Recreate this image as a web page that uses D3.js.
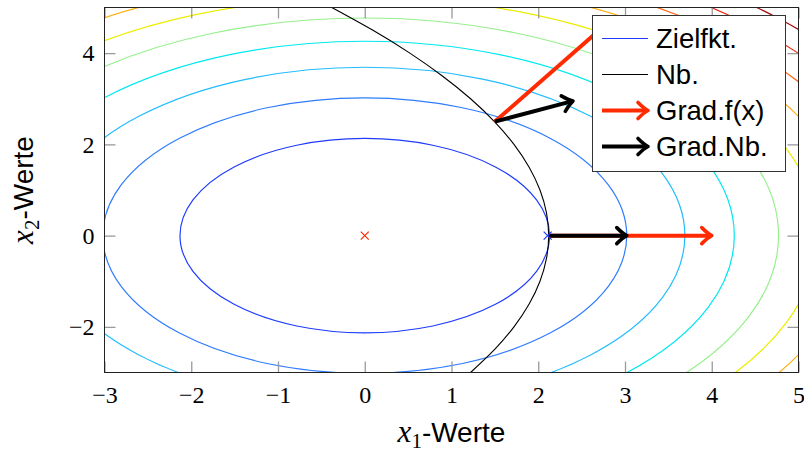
<!DOCTYPE html>
<html>
<head>
<meta charset="utf-8">
<script src="https://cdn.jsdelivr.net/npm/d3@7"></script>
<style>
  html, body { margin: 0; padding: 0; background: #fff; }
  svg { display: block; }
</style>
</head>
<body>
<div id="chart"></div>
<script>
// contour radii of the objective (circles in data space)
const contourRadii = [2.13, 3.02, 3.69, 4.26, 4.77, 5.22, 5.64, 6.03, 6.40, 6.74];

// constraint curve (Nb.)
const nbX2 = [-3, -2.5, -2, -1.5, -1, -0.5, 0, 0.5, 1, 1.5, 2, 2.5, 3, 3.5, 4, 4.5, 5];
const nbX1 = [1.22, 1.495, 1.72, 1.895, 2.02, 2.095, 2.12, 2.095, 2.02, 1.895, 1.72, 1.495, 1.22, 0.895, 0.52, 0.095, -0.38];

// gradient arrows: [start, end]
const gradFArrows = [[[2.12, 0], [4.0, 0]], [[1.5, 2.5], [2.85, 4.75]]];
const gradNbArrows = [[[2.12, 0], [3.02, 0]], [[1.5, 2.5], [2.4, 2.95]]];

const freeMin = [[0, 0]];
const constrainedMin = [[2.12, 0]];

const xTicks = [-3, -2, -1, 0, 1, 2, 3, 4, 5];
const yTicks = [-2, 0, 2, 4];
const legendLabels = ["Zielfkt.", "Nb.", "Grad.f(x)", "Grad.Nb."];

// styles
const contourColors = ["#1f3cff", "#2f7cff", "#22bcff", "#00e8ee", "#96f08c",
                       "#ecec00", "#ffae10", "#ff6418", "#e82a14", "#a00808"];
const red = "#ff2a00";
const blue = "#1f3cff";

const W = 804, H = 452;
const plot = { left: 104.5, right: 798.5, top: 7.5, bottom: 372.5 };

const svg = d3.select("#chart").append("svg")
    .attr("width", W)
    .attr("height", H);

const x = d3.scaleLinear().domain([-3, 5]).range([plot.left, plot.right]);
const y = d3.scaleLinear().domain([-3, 5]).range([plot.bottom, plot.top]);

svg.append("clipPath").attr("id", "clip")
  .append("rect")
    .attr("x", plot.left)
    .attr("y", plot.top)
    .attr("width", plot.right - plot.left)
    .attr("height", plot.bottom - plot.top);

const inner = svg.append("g").attr("clip-path", "url(#clip)");

// contours
inner.selectAll(".contour")
  .data(contourRadii)
  .enter().append("ellipse")
    .attr("class", "contour")
    .attr("cx", x(0))
    .attr("cy", y(0))
    .attr("rx", d => x(d) - x(0))
    .attr("ry", d => y(0) - y(d))
    .attr("fill", "none")
    .attr("stroke", (d, i) => contourColors[i])
    .attr("stroke-width", 1.2);

// constraint
const nbLine = d3.line()
    .x(d => x(d[0]))
    .y(d => y(d[1]))
    .curve(d3.curveNatural);

inner.append("path")
    .attr("d", nbLine(nbX1.map((v, i) => [v, nbX2[i]])))
    .attr("fill", "none")
    .attr("stroke", "#000")
    .attr("stroke-width", 1.1);

function arrow(g, x0, y0, x1, y1, color) {
    const len = Math.hypot(x1 - x0, y1 - y0);
    const ux = (x1 - x0) / len, uy = (y1 - y0) / len;
    const nx = -uy, ny = ux;
    g.append("line")
        .attr("x1", x0).attr("y1", y0)
        .attr("x2", x1 - 1.5 * ux).attr("y2", y1 - 1.5 * uy)
        .attr("stroke", color)
        .attr("stroke-width", 4);
    const b = 10, h = 8;
    const p1 = [x1 - b * ux + h * nx, y1 - b * uy + h * ny];
    const p2 = [x1 - b * ux - h * nx, y1 - b * uy - h * ny];
    const c1 = [x1 - 4 * ux + 2 * nx, y1 - 4 * uy + 2 * ny];
    const c2 = [x1 - 4 * ux - 2 * nx, y1 - 4 * uy - 2 * ny];
    g.append("path")
        .attr("d", `M${p1} Q${c1} ${x1},${y1} Q${c2} ${p2}`)
        .attr("fill", "none")
        .attr("stroke", color)
        .attr("stroke-width", 3.6)
        .attr("stroke-linecap", "round")
        .attr("stroke-linejoin", "round");
}

gradFArrows.forEach(a => arrow(inner, x(a[0][0]), y(a[0][1]), x(a[1][0]), y(a[1][1]), red));
gradNbArrows.forEach(a => arrow(inner, x(a[0][0]), y(a[0][1]), x(a[1][0]), y(a[1][1]), "#000"));

// markers
function cross(g, data, color, dx) {
    g.selectAll(null)
      .data(data)
      .enter().append("path")
        .attr("d", d => {
            const cx = x(d[0]) + dx, cy = y(d[1]), s = 4;
            return `M${cx - s},${cy - s}L${cx + s},${cy + s}M${cx - s},${cy + s}L${cx + s},${cy - s}`;
        })
        .attr("stroke", color)
        .attr("stroke-width", 1.2);
}
cross(inner, freeMin, red, 0);
cross(inner, constrainedMin, blue, -1);

// axes (ticks inside, mirrored)
const tickColor = "#9a9a9a";
const tickFont = "'Liberation Serif', 'Times New Roman', serif";

const gx = svg.append("g")
    .attr("transform", `translate(0,${plot.bottom})`)
    .call(d3.axisBottom(x).tickValues(xTicks).tickSize(-11).tickPadding(13));
const gxTop = svg.append("g")
    .attr("transform", `translate(0,${plot.top})`)
    .call(d3.axisTop(x).tickValues(xTicks).tickSize(-11).tickFormat(""));
const gy = svg.append("g")
    .attr("transform", `translate(${plot.left},0)`)
    .call(d3.axisLeft(y).tickValues(yTicks).tickSize(-11).tickPadding(10));
const gyRight = svg.append("g")
    .attr("transform", `translate(${plot.right},0)`)
    .call(d3.axisRight(y).tickValues(yTicks).tickSize(-11).tickFormat(""));

[gx, gxTop, gy, gyRight].forEach(g => {
    g.select(".domain").remove();
    g.selectAll(".tick line").attr("stroke", tickColor).attr("stroke-width", 1.3);
    g.selectAll(".tick text")
        .attr("fill", "#000")
        .style("font-family", tickFont)
        .style("font-size", "24px");
});

svg.append("rect")
    .attr("x", plot.left)
    .attr("y", plot.top)
    .attr("width", plot.right - plot.left)
    .attr("height", plot.bottom - plot.top)
    .attr("fill", "none")
    .attr("stroke", "#222")
    .attr("stroke-width", 1);

// axis labels
function axisLabel(t, sub) {
    t.append("tspan")
        .style("font-family", tickFont)
        .style("font-style", "italic")
        .style("font-size", "31px")
        .text("x");
    t.append("tspan")
        .style("font-family", tickFont)
        .style("font-size", "21px")
        .attr("dy", 6)
        .text(sub);
    t.append("tspan")
        .attr("dy", -6)
        .text("-Werte");
}

const xl = svg.append("text")
    .attr("x", (plot.left + plot.right) / 2)
    .attr("y", 442)
    .attr("text-anchor", "middle")
    .style("font-family", "'Liberation Sans', Arial, sans-serif")
    .style("font-size", "28px");
axisLabel(xl, "1");

const yl = svg.append("text")
    .attr("transform", `translate(33,${(plot.top + plot.bottom) / 2}) rotate(-90)`)
    .attr("text-anchor", "middle")
    .style("font-family", "'Liberation Sans', Arial, sans-serif")
    .style("font-size", "28px");
axisLabel(yl, "2");

// legend
const legend = svg.append("g");
legend.append("rect")
    .attr("x", 592.5)
    .attr("y", 15.5)
    .attr("width", 193)
    .attr("height", 156)
    .attr("fill", "#fff")
    .attr("stroke", "#333")
    .attr("stroke-width", 1);

const rowY = d3.scalePoint().domain(legendLabels).range([38.5, 146.5]);

legend.append("line")
    .attr("x1", 602).attr("x2", 648)
    .attr("y1", rowY("Zielfkt.")).attr("y2", rowY("Zielfkt."))
    .attr("stroke", blue).attr("stroke-width", 1.2);
legend.append("line")
    .attr("x1", 602).attr("x2", 648)
    .attr("y1", rowY("Nb.")).attr("y2", rowY("Nb."))
    .attr("stroke", "#000").attr("stroke-width", 1);
arrow(legend, 602, rowY("Grad.f(x)"), 648, rowY("Grad.f(x)"), red);
arrow(legend, 602, rowY("Grad.Nb."), 648, rowY("Grad.Nb."), "#000");

legend.selectAll(".legend-label")
  .data(legendLabels)
  .enter().append("text")
    .attr("class", "legend-label")
    .attr("x", 656)
    .attr("y", d => rowY(d) + 9.5)
    .style("font-family", "'Liberation Sans', Arial, sans-serif")
    .style("font-size", "27.5px")
    .text(d => d);
</script>
</body>
</html>
